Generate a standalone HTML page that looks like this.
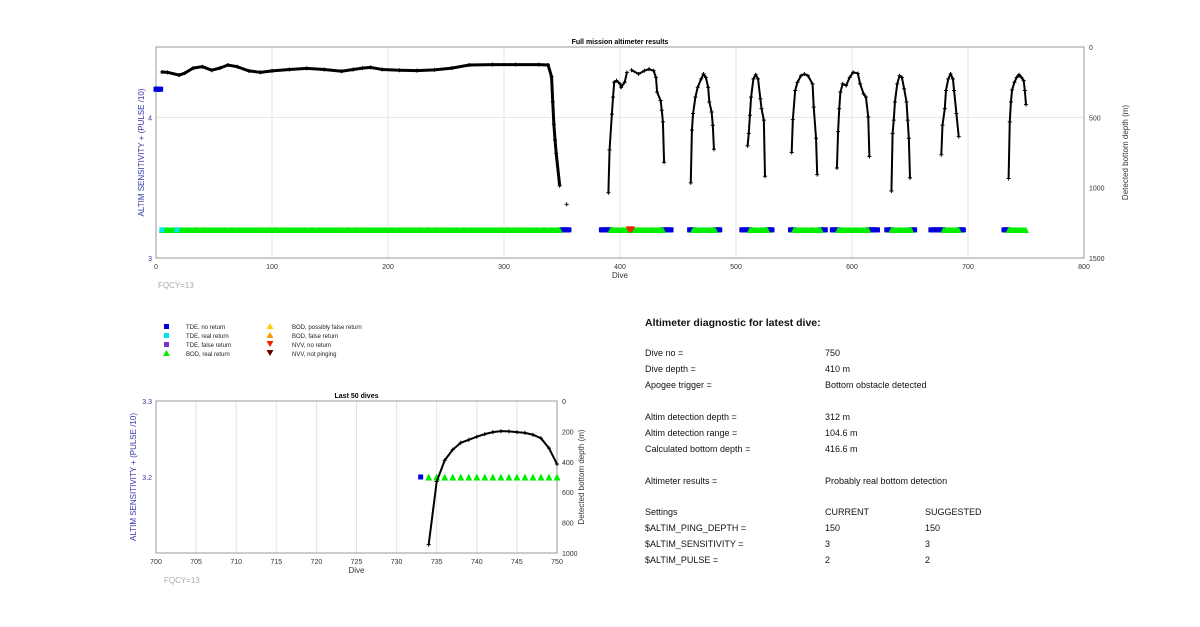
<!DOCTYPE html>
<html><head><meta charset="utf-8"><style>
body{margin:0;background:#fff;font-family:"Liberation Sans",sans-serif}
svg text{font-family:"Liberation Sans",sans-serif}
</style></head><body>
<svg id="s" width="1200" height="622" viewBox="0 0 1200 622">
<rect width="1200" height="622" fill="#fff"/>
<g id="top"></g>
<g id="bot"></g>
<g font-size="6" fill="#222">
<rect x="164" y="324" width="5" height="5" fill="#0000dd"/><text x="186" y="329">TDE, no return</text>
<rect x="164" y="333" width="5" height="5" fill="#00e5ee"/><text x="186" y="338">TDE, real return</text>
<rect x="164" y="342" width="5" height="5" fill="#7733cc"/><text x="186" y="347">TDE, false return</text>
<polygon points="166.5,350 163,356 170,356" fill="#00ee00"/><text x="186" y="356">BOD, real return</text>
<polygon points="270,323 266.5,329 273.5,329" fill="#ffcc00"/><text x="292" y="329">BOD, possibly false return</text>
<polygon points="270,332 266.5,338 273.5,338" fill="#ff9900"/><text x="292" y="338">BOD, false return</text>
<polygon points="266.5,341 273.5,341 270,347" fill="#ee2200"/><text x="292" y="347">NVV, no return</text>
<polygon points="266.5,350 273.5,350 270,356" fill="#660000"/><text x="292" y="356">NVV, not pinging</text>
</g>
<g font-size="9" fill="#111">
<text x="645" y="326" font-size="10.5" font-weight="bold">Altimeter diagnostic for latest dive:</text>
<text x="645" y="356">Dive no =</text><text x="825" y="356">750</text>
<text x="645" y="372">Dive depth =</text><text x="825" y="372">410 m</text>
<text x="645" y="388">Apogee trigger =</text><text x="825" y="388">Bottom obstacle detected</text>
<text x="645" y="420">Altim detection depth =</text><text x="825" y="420">312 m</text>
<text x="645" y="436">Altim detection range =</text><text x="825" y="436">104.6 m</text>
<text x="645" y="452">Calculated bottom depth =</text><text x="825" y="452">416.6 m</text>
<text x="645" y="484">Altimeter results =</text><text x="825" y="484">Probably real bottom detection</text>
<text x="645" y="515">Settings</text><text x="825" y="515">CURRENT</text><text x="925" y="515">SUGGESTED</text>
<text x="645" y="531">$ALTIM_PING_DEPTH =</text><text x="825" y="531">150</text><text x="925" y="531">150</text>
<text x="645" y="547">$ALTIM_SENSITIVITY =</text><text x="825" y="547">3</text><text x="925" y="547">3</text>
<text x="645" y="563">$ALTIM_PULSE =</text><text x="825" y="563">2</text><text x="925" y="563">2</text>
</g>
</svg>
<script>
// ---- full mission data ----
const depthSegments = [
 [[5,178],[10,180],[20,200],[25,185],[32,150],[40,140],[48,165],[55,150],[62,128],[70,140],[80,170],[90,180],[100,170],[115,160],[130,152],[145,160],[160,172],[170,160],[178,150],[185,145],[195,160],[210,165],[225,168],[240,163],[255,150],[270,128],[290,125],[310,125],[330,125],[338,128],[341,211],[342,389],[343,550],[344,661],[345,756],[348,986]],
 [[390,1036],[391,731],[393,478],[394,356],[395,251],[397,239],[400,262],[401,286],[404,251],[406,180]],
 [[410,164],[416,192],[421,169],[425,157],[429,169],[431,216],[432,321],[435,380],[436,450],[437,532],[438,820]],
 [[461,966],[462,591],[463,473],[465,356],[467,286],[470,227],[472,192],[474,216],[476,286],[477,391],[479,462],[480,556],[481,727]],
 [[510,703],[511,614],[512,485],[513,356],[515,227],[517,197],[519,227],[521,368],[522,438],[524,520],[525,919]],
 [[548,750],[549,516],[551,309],[553,251],[556,204],[559,192],[562,204],[566,262],[567,427],[569,649],[570,907]],
 [[587,860],[588,602],[589,438],[590,321],[592,262],[595,274],[598,216],[601,180],[605,188],[607,262],[610,333],[612,356],[614,497],[615,778]],
 [[634,1024],[635,614],[636,520],[637,391],[639,262],[641,204],[643,216],[645,298],[647,391],[648,520],[649,649],[650,930]],
 [[677,766],[678,555],[680,438],[681,309],[683,227],[685,192],[687,227],[688,309],[690,473],[692,637]],
 [[735,935],[736,532],[737,391],[738,305],[740,251],[742,216],[744,197],[746,216],[748,239],[749,309],[750,410]]
];
const isolatedDepths = [[354,1119]];
const greenRanges = [[5,348],[392,437],[463,482],[512,527],[550,573],[588,614],[634,651],[679,692],[735,750]];
const blueRanges = [[349,356],[384,392],[437,444],[460,463],[482,486],[505,512],[527,531],[547,550],[573,577],[583,588],[614,622],[630,634],[651,654],[668,679],[692,696],[731,735]];
const blueHigh = [[0,4]];
const cyanDives = [5,18];
const redDives = [408,410];
const sensValue = 3.2, sensHigh = 4.2;
const topXTicks = [0,100,200,300,400,500,600,700,800];
const topYTicks = [3,4];
const topDepthTicks = [0,500,1000,1500];
// ---- last 50 dives ----
const lastDives = [734,735,736,737,738,739,740,741,742,743,744,745,746,747,748,749,750];
const lastDepths = [945,530,390,320,275,255,235,218,205,198,200,205,210,222,245,310,415];
const lastGreen = [734,735,736,737,738,739,740,741,742,743,744,745,746,747,748,749,750];
const lastBlue = [733];
const botXTicks = [700,705,710,715,720,725,730,735,740,745,750];
const botYTicks = [3.2,3.3];
const botDepthTicks = [0,200,400,600,800,1000];

const NS="http://www.w3.org/2000/svg";
function mk(parent,tag,attrs,txt){const e=document.createElementNS(NS,tag);for(const k in attrs)e.setAttribute(k,attrs[k]);if(txt!==undefined)e.textContent=txt;parent.appendChild(e);return e;}

function axes(g,o){
  const X=v=>o.x0+(v-o.xmin)/(o.xmax-o.xmin)*(o.x1-o.x0);
  const Y=v=>o.y1-(v-o.ymin)/(o.ymax-o.ymin)*(o.y1-o.y0);
  const D=v=>o.y0+v/o.dmax*(o.y1-o.y0);
  o.xt.forEach(t=>{if(t>o.xmin&&t<o.xmax){const l=mk(g,'line',{x1:X(t),x2:X(t),y1:o.y0,y2:o.y1,stroke:'#e4e4e4','stroke-width':1});}
    const t2=mk(g,'text',{x:X(t),y:o.y1+11,'font-size':7,'text-anchor':'middle',fill:'#333'},t);});
  o.yt.forEach(t=>{if(o.hgrid&&t>o.ymin&&t<o.ymax){const l=mk(g,'line',{x1:o.x0,x2:o.x1,y1:Y(t),y2:Y(t),stroke:'#e4e4e4'});}
    const t2=mk(g,'text',{x:o.x0-4,y:Y(t)+3,'font-size':7,'text-anchor':'end',fill:'#3333aa'},t);});
  o.dt.forEach(t=>{const t2=mk(g,'text',{x:o.x1+5,y:D(t)+3,'font-size':7,fill:'#333'},t);});
  const r=mk(g,'rect',{x:o.x0,y:o.y0,width:o.x1-o.x0,height:o.y1-o.y0,fill:'none',stroke:'#999'});
  
  const tt=mk(g,'text',{x:(o.x0+o.x1)/2,y:o.y0-3,'font-size':7,'font-weight':'bold','text-anchor':'middle'},o.title);
  
  const xl=mk(g,'text',{x:(o.x0+o.x1)/2,y:o.y1+20,'font-size':8,'text-anchor':'middle',fill:'#333'},'Dive');
  
  const cy=(o.y0+o.y1)/2;
  const yl=mk(g,'text',{x:o.ylx,y:cy,'font-size':8,'text-anchor':'middle',fill:'#3333aa',transform:`rotate(-90 ${o.ylx} ${cy})`},'ALTIM SENSITIVITY + (PULSE /10)');
  
  const dl=mk(g,'text',{x:o.dlx,y:cy,'font-size':8,'text-anchor':'middle',fill:'#333',transform:`rotate(-90 ${o.dlx} ${cy})`},'Detected bottom depth (m)');
  
  const fq=mk(g,'text',{x:o.fqx,y:o.y1+30,'font-size':8,fill:'#aaa'},'FQCY=13');
  
  return {X,Y,D};
}
function sq(g,x,y,s,c){const r=mk(g,'rect',{x:x-s/2,y:y-s/2,width:s,height:s,fill:c});}
function tri(g,x,y,s,c,down){const p=down?`${x-s/2},${y-s/2} ${x+s/2},${y-s/2} ${x},${y+s/2}`:`${x},${y-s/2} ${x-s/2},${y+s/2} ${x+s/2},${y+s/2}`;const e=mk(g,'polygon',{points:p,fill:c});}
function cross(g,x,y){const e=mk(g,'path',{d:`M${x-2},${y}h4M${x},${y-2}v4`,stroke:'#000','stroke-width':1});}

// top chart
const T=document.getElementById('top');
const a=axes(T,{x0:156,x1:1084,y0:47,y1:258,xmin:0,xmax:800,ymin:3,ymax:4.5,dmax:1500,xt:topXTicks,yt:topYTicks,dt:topDepthTicks,hgrid:true,title:'Full mission altimeter results',ylx:144,dlx:1128,fqx:158});
blueHigh.forEach(([s,e])=>{for(let d=s;d<=e;d++)sq(T,a.X(d),a.Y(sensHigh),5,'#0000dd');});
blueRanges.forEach(([s,e])=>{for(let d=s;d<=e;d++)sq(T,a.X(d),a.Y(sensValue),5,'#0000dd');});
greenRanges.forEach(([s,e])=>{for(let d=s;d<=e;d++)tri(T,a.X(d),a.Y(sensValue),6,'#00ee00');});
cyanDives.forEach(d=>sq(T,a.X(d),a.Y(sensValue),5,'#00e5ee'));
redDives.forEach(d=>tri(T,a.X(d),a.Y(sensValue),7,'#ee2200',true));
depthSegments.forEach((seg,i)=>{
  const pl=mk(T,'polyline',{points:seg.map(p=>a.X(p[0])+','+a.D(p[1])).join(' '),fill:'none',stroke:'#000','stroke-width':i===0?3:2});
  
  seg.forEach(p=>cross(T,a.X(p[0]),a.D(p[1])));
});
isolatedDepths.forEach(p=>cross(T,a.X(p[0]),a.D(p[1])));

// bottom chart
const B=document.getElementById('bot');
const b=axes(B,{x0:156,x1:557,y0:401,y1:553,xmin:700,xmax:750,ymin:3.1,ymax:3.3,dmax:1000,xt:botXTicks,yt:botYTicks,dt:botDepthTicks,hgrid:false,title:'Last 50 dives',ylx:136,dlx:584,fqx:164});
lastBlue.forEach(d=>sq(B,b.X(d),b.Y(sensValue),5,'#0000dd'));
lastGreen.forEach(d=>tri(B,b.X(d),b.Y(sensValue),7,'#00ee00'));
const pl=mk(B,'polyline',{points:lastDives.map((d,i)=>b.X(d)+','+b.D(lastDepths[i])).join(' '),fill:'none',stroke:'#000','stroke-width':2});

lastDives.forEach((d,i)=>cross(B,b.X(d),b.D(lastDepths[i])));
</script>
</body></html>
